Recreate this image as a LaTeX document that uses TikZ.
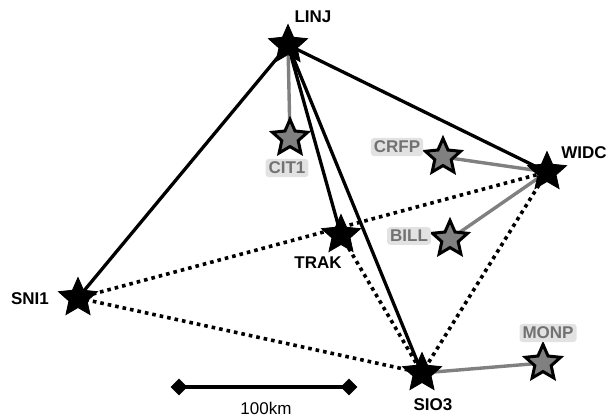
\documentclass[tikz,border=0pt]{standalone}
\usepackage{fontspec}
\setmainfont{Liberation Sans}
\usetikzlibrary{shapes.geometric}
\definecolor{lgray}{HTML}{808080}
\definecolor{tgray}{HTML}{727272}
\definecolor{bgray}{HTML}{E2E2E2}
\tikzset{
  bstar/.style={star, star points=5, star point ratio=2.15, inner sep=0pt, minimum size=41pt, fill=black, draw=black, line width=0.8pt},
  gstar/.style={star, star points=5, star point ratio=2.15, inner sep=0pt, minimum size=37pt, fill=lgray, draw=black, line width=3pt, line join=miter},
  solidedge/.style={line width=3.3pt, black},
  dotedge/.style={line width=3.6pt, black, dash pattern=on 3.6pt off 4pt},
  grayedge/.style={line width=3.4pt, lgray},
  blabel/.style={font=\fontsize{17}{18}\selectfont\bfseries, text=black, inner sep=1pt},
  glabel/.style={font=\fontsize{17}{18}\selectfont\bfseries, text=tgray, fill=bgray, rounded corners=3pt, inner sep=3pt},
  scalebar/.style={line width=3.4pt, black},
  tick/.style={diamond, fill=black, inner sep=0pt, minimum size=17pt},
}
\begin{document}
\begin{tikzpicture}[x=1pt, y=-1pt]
\useasboundingbox (0,0) rectangle (608,419);
% station positions
\coordinate (LINJ) at (288,45);
\coordinate (CIT1) at (290,138);
\coordinate (CRFP) at (443,157);
\coordinate (WIDC) at (547,172);
\coordinate (BILL) at (450,239);
\coordinate (TRAK) at (341,235);
\coordinate (SNI1) at (78,298);
\coordinate (SIO3) at (422,373);
\coordinate (MONP) at (543,363);
% dotted baselines
\draw[dotedge] (SNI1) -- (WIDC);
\draw[dotedge] (SNI1) -- (SIO3);
\draw[dotedge] (TRAK) -- (SIO3);
\draw[dotedge] (WIDC) -- (SIO3);
% solid baselines
\draw[solidedge] (LINJ) -- (SNI1);
\draw[solidedge] (LINJ) -- (WIDC);
\draw[solidedge] (LINJ) -- (TRAK);
\draw[solidedge] (LINJ) -- (SIO3);
% gray baselines
\draw[grayedge] (LINJ) -- (CIT1);
\draw[grayedge] (CRFP) -- (WIDC);
\draw[grayedge] (BILL) -- (WIDC);
\draw[grayedge] (SIO3) -- (MONP);
% stars
\node[bstar] (sLINJ) at (LINJ) {};
\node[bstar] (sWIDC) at (WIDC) {};
\node[bstar] (sTRAK) at (TRAK) {};
\node[bstar] (sSNI1) at (SNI1) {};
\node[bstar] (sSIO3) at (SIO3) {};
\node[gstar] (sCIT1) at (CIT1) {};
\node[gstar] (sCRFP) at (CRFP) {};
\node[gstar] (sBILL) at (BILL) {};
\node[gstar] (sMONP) at (MONP) {};
% labels
\node[blabel] (lLINJ) at (313,17) {LINJ};
\node[blabel] (lWIDC) at (584,153) {WIDC};
\node[blabel] (lTRAK) at (318,263) {TRAK};
\node[blabel] (lSNI1) at (30,299) {SNI1};
\node[blabel] (lSIO3) at (433,405) {SIO3};
\node[glabel] (lCIT1) at (287,168) {CIT1};
\node[glabel] (lCRFP) at (397,147) {CRFP};
\node[glabel] (lBILL) at (409,236) {BILL};
\node[glabel] (lMONP) at (548,333) {MONP};
% scale bar
\node[tick] (sbL) at (179,387) {};
\node[tick] (sbR) at (349,387) {};
\draw[scalebar] (sbL.center) -- (sbR.center);
\node[font=\fontsize{17}{18}\selectfont] (sbT) at (266,408) {100km};
\end{tikzpicture}
\end{document}
